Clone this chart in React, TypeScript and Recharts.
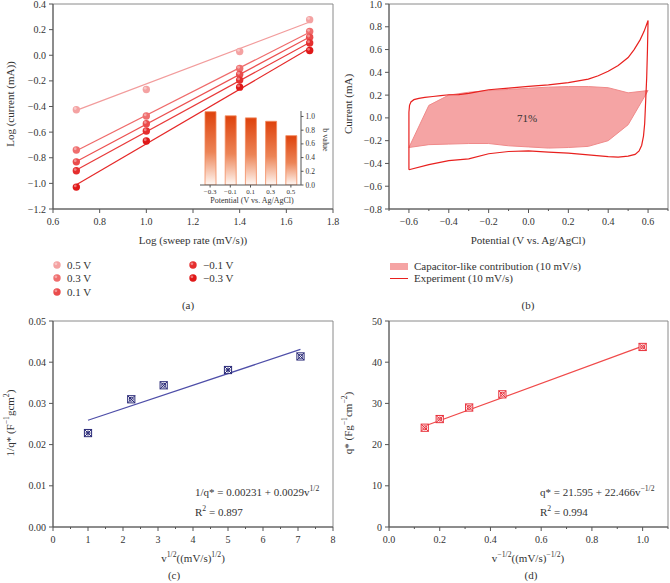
import {
  ComposedChart,
  BarChart,
  Bar,
  Line,
  Scatter,
  Area,
  XAxis,
  YAxis,
  ReferenceArea,
} from "recharts";

const FONT = "'Liberation Serif', 'DejaVu Serif', serif";
const AXIS = "#555";
const FRAME = "#8a8a8a";
const TXT = "#333";

// (a) log(i) vs log(v) at five potentials
const logRate = [0.7, 1.0, 1.4, 1.7];
const logI05 = [-0.425, -0.267, 0.029, 0.278];
const logI03 = [-0.739, -0.474, -0.103, 0.185];
const logI01 = [-0.832, -0.534, -0.15, 0.141];
const logIm01 = [-0.902, -0.591, -0.194, 0.096];
const logIm03 = [-1.029, -0.669, -0.249, 0.037];
const fitRate = [0.7, 1.7];
const fit05 = [-0.43, 0.26];
const fit03 = [-0.745, 0.179];
const fit01 = [-0.83, 0.142];
const fitm01 = [-0.896, 0.1];
const fitm03 = [-1.01, 0.054];

// inset: b value per potential
const bPotential = ["−0.3", "−0.1", "0.1", "0.3", "0.5"];
const bValue = [1.07, 1.01, 0.98, 0.93, 0.72];

// (b) CV at 10 mV/s, closed loop
const cvX = [
  -0.6, -0.6, -0.597, -0.59, -0.575, -0.55, -0.52, -0.48, -0.44, -0.4, -0.35, -0.3, -0.2, -0.1, 0,
  0.1, 0.2, 0.3, 0.35, 0.4, 0.45, 0.5, 0.53, 0.56, 0.58, 0.6, 0.597, 0.593, 0.588, 0.583, 0.577,
  0.568, 0.555, 0.535, 0.5, 0.45, 0.4, 0.3, 0.2, 0.1, 0, -0.1, -0.2, -0.3, -0.4, -0.5, -0.6,
];
const cvY = [
  -0.455, 0.05, 0.11, 0.14, 0.16, 0.172, 0.18, 0.188, 0.195, 0.203, 0.205, 0.215, 0.247, 0.262,
  0.276, 0.29, 0.31, 0.34, 0.37, 0.41, 0.46, 0.53, 0.6, 0.685, 0.76, 0.855, 0.6, 0.35, 0.15,
  -0.05, -0.16, -0.24, -0.29, -0.32, -0.335, -0.345, -0.34, -0.325, -0.31, -0.3, -0.29, -0.295,
  -0.315, -0.36, -0.375, -0.41, -0.455,
];
const capX = [-0.6, -0.5, -0.4, -0.3, -0.2, -0.1, 0, 0.1, 0.2, 0.3, 0.4, 0.5, 0.6];
const capHi = [-0.26, 0.11, 0.2, 0.225, 0.24, 0.25, 0.26, 0.27, 0.275, 0.275, 0.265, 0.22, 0.24];
const capLo = [-0.26, -0.235, -0.23, -0.225, -0.225, -0.245, -0.255, -0.265, -0.26, -0.25, -0.2, -0.06, 0.24];

// (c) 1/q* vs v^1/2
const sqrtRate = [1, 2.236, 3.162, 5, 7.071];
const invQ = [0.0228, 0.031, 0.0344, 0.0381, 0.0414];
const fitSqrtRate = [1, 7.07];
const fitInvQ = [0.0259, 0.0431];

// (d) q* vs v^-1/2
const invSqrtRate = [0.141, 0.2, 0.316, 0.447, 1.0];
const qStar = [24.1, 26.2, 29.0, 32.2, 43.7];
const fitInvSqrtRate = [0.141, 1.0];
const fitQStar = [24.5, 43.9];

const toPts = (xs: number[], ys: number[]) => xs.map((x, i) => ({ x, y: ys[i] }));

const seriesA = [
  { name: "0.5 V", color: "#f4a2a2", line: "#f29c9c", pts: logI05, fit: fit05 },
  { name: "0.3 V", color: "#ef6e6e", line: "#ef6a6a", pts: logI03, fit: fit03 },
  { name: "0.1 V", color: "#ea4c4c", line: "#ec5050", pts: logI01, fit: fit01 },
  { name: "−0.1 V", color: "#e52e2e", line: "#e83a3a", pts: logIm01, fit: fitm01 },
  { name: "−0.3 V", color: "#e01818", line: "#e52828", pts: logIm03, fit: fitm03 },
];

const fmt = (v: number, d: number) => v.toFixed(d).replace("-", "−");
const labeller = (step: number, d: number) => (v: number) =>
  Math.abs(v / step - Math.round(v / step)) < 1e-6 ? fmt(v, d) : null;

function axisTick(
  side: "bottom" | "left" | "right",
  label: (v: any) => string | null,
  fs = 10,
  big = 4,
  gap = 3
) {
  return (props: any) => {
    const { x, y, payload } = props;
    const txt = label(payload.value);
    const len = txt === null ? 2 : big;
    if (side === "bottom") {
      return (
        <g>
          <line x1={x} y1={y} x2={x} y2={y + len} stroke={AXIS} />
          {txt !== null && (
            <text x={x} y={y + len + gap + fs / 2} textAnchor="middle" dominantBaseline="central" fontSize={fs} fill={TXT} fontFamily={FONT}>
              {txt}
            </text>
          )}
        </g>
      );
    }
    const dir = side === "left" ? -1 : 1;
    return (
      <g>
        <line x1={x} y1={y} x2={x + dir * len} y2={y} stroke={AXIS} />
        {txt !== null && (
          <text x={x + dir * (len + gap)} y={y} textAnchor={side === "left" ? "end" : "start"} dominantBaseline="central" fontSize={fs} fill={TXT} fontFamily={FONT}>
            {txt}
          </text>
        )}
      </g>
    );
  };
}

function Ball({ cx, cy, color }: { cx: number; cy: number; color: string }) {
  return (
    <g>
      <circle cx={cx} cy={cy} r={3.7} fill={color} />
      <circle cx={cx - 1.1} cy={cy - 1.2} r={1.4} fill="#fff" opacity={0.4} />
    </g>
  );
}

function XBox({ cx, cy, color }: { cx: number; cy: number; color: string }) {
  const h = 3.6;
  return (
    <g stroke={color} strokeWidth={1}>
      <rect x={cx - h} y={cy - h} width={2 * h} height={2 * h} fill="#fff" />
      <line x1={cx - h} y1={cy - h} x2={cx + h} y2={cy + h} />
      <line x1={cx - h} y1={cy + h} x2={cx + h} y2={cy - h} />
      <circle cx={cx} cy={cy} r={2} fill="none" />
    </g>
  );
}

function Txt({ x, y, rot, size = 11, left, children }: any) {
  const tx = left ? "0" : "-50%";
  return (
    <div
      style={{
        position: "absolute",
        left: x,
        top: y,
        transform: `translate(${tx},-50%)${rot ? ` rotate(${rot}deg)` : ""}`,
        fontSize: size,
        whiteSpace: "nowrap",
        lineHeight: 1,
      }}
    >
      {children}
    </div>
  );
}

const sup = (s: string) => <sup style={{ fontSize: "0.7em", lineHeight: 0 }}>{s}</sup>;

function ChartA() {
  return (
    <ComposedChart width={340} height={240} margin={{ top: 4, right: 7, left: 13, bottom: 11 }}>
      <XAxis type="number" dataKey="x" domain={[0.6, 1.8]} ticks={[0.6, 0.8, 1.0, 1.2, 1.4, 1.6, 1.8]}
        interval={0} height={20} tickSize={0} tickMargin={0} tickLine={false} axisLine={{ stroke: AXIS }}
        tick={axisTick("bottom", labeller(0.2, 1))} allowDataOverflow />
      <YAxis type="number" dataKey="y" domain={[-1.2, 0.4]} ticks={[-1.2, -1.0, -0.8, -0.6, -0.4, -0.2, 0, 0.2, 0.4]}
        interval={0} width={40} tickSize={0} tickMargin={0} tickLine={false} axisLine={{ stroke: AXIS }}
        tick={axisTick("left", labeller(0.2, 1))} allowDataOverflow />
      <ReferenceArea x1={0.6} x2={1.8} y1={-1.2} y2={0.4} fill="none" stroke={FRAME} />
      {seriesA.map((s) => (
        <Line key={"f" + s.name} data={toPts(fitRate, s.fit)} dataKey="y" type="linear" stroke={s.line}
          strokeWidth={1.2} dot={false} isAnimationActive={false} />
      ))}
      {seriesA.map((s) => (
        <Scatter key={s.name} data={toPts(logRate, s.pts)} dataKey="y" isAnimationActive={false}
          shape={(p: any) => <Ball cx={p.cx} cy={p.cy} color={s.color} />} />
      ))}
    </ComposedChart>
  );
}

function InsetB() {
  const data = bPotential.map((p, i) => ({ pot: p, b: bValue[i] }));
  return (
    <BarChart width={150} height={110} data={data} margin={{ top: 6, right: 9, left: 10, bottom: 10 }}>
      <defs>
        <linearGradient id="bgrad" x1="0" y1="0" x2="0" y2="1">
          <stop offset="0%" stopColor="#de420c" />
          <stop offset="55%" stopColor="#ec8456" />
          <stop offset="100%" stopColor="#fff8f4" />
        </linearGradient>
      </defs>
      <XAxis dataKey="pot" height={20} interval={0} tickSize={0} tickMargin={0} tickLine={false}
        axisLine={{ stroke: AXIS }} tick={axisTick("bottom", (v) => String(v), 7, 2.5, 1)} />
      <YAxis orientation="right" domain={[0, 1.08]} ticks={[0, 0.2, 0.4, 0.6, 0.8, 1.0]} width={30}
        interval={0} tickSize={0} tickMargin={0} tickLine={false} axisLine={{ stroke: AXIS }}
        tick={axisTick("right", labeller(0.2, 1), 7.5, 2.5, 2)} allowDataOverflow />
      <Bar dataKey="b" barSize={11} fill="url(#bgrad)" stroke="#f38a5e" strokeWidth={0.8} isAnimationActive={false} />
    </BarChart>
  );
}

function ChartB() {
  const cap = capX.map((x, i) => ({ x, r: [capLo[i], capHi[i]] }));
  return (
    <ComposedChart width={335} height={240} margin={{ top: 4, right: 2, left: 14, bottom: 11 }}>
      <XAxis type="number" dataKey="x" domain={[-0.7, 0.7]}
        ticks={[-0.7, -0.6, -0.5, -0.4, -0.3, -0.2, -0.1, 0, 0.1, 0.2, 0.3, 0.4, 0.5, 0.6, 0.7]}
        interval={0} height={20} tickSize={0} tickMargin={0} tickLine={false} axisLine={{ stroke: AXIS }}
        tick={axisTick("bottom", labeller(0.2, 1))} allowDataOverflow />
      <YAxis type="number" domain={[-0.8, 1.0]} ticks={[-0.8, -0.6, -0.4, -0.2, 0, 0.2, 0.4, 0.6, 0.8, 1.0]}
        interval={0} width={40} tickSize={0} tickMargin={0} tickLine={false} axisLine={{ stroke: AXIS }}
        tick={axisTick("left", labeller(0.2, 1))} allowDataOverflow />
      <ReferenceArea x1={-0.7} x2={0.7} y1={-0.8} y2={1.0} fill="none" stroke={FRAME} />
      <Area data={cap} dataKey="r" type="linear" fill="#f5a4a4" fillOpacity={1} stroke="#f08a8a"
        strokeWidth={1} dot={false} activeDot={false} isAnimationActive={false} />
      <Line data={toPts(cvX, cvY)} dataKey="y" type="linear" stroke="#e8201e" strokeWidth={1.2}
        dot={false} isAnimationActive={false} />
    </ComposedChart>
  );
}

function ChartC() {
  return (
    <ComposedChart width={340} height={250} margin={{ top: 21, right: 7, left: 13, bottom: 3 }}>
      <XAxis type="number" dataKey="x" domain={[0, 8]}
        ticks={[0, 0.5, 1, 1.5, 2, 2.5, 3, 3.5, 4, 4.5, 5, 5.5, 6, 6.5, 7, 7.5, 8]}
        interval={0} height={20} tickSize={0} tickMargin={0} tickLine={false} axisLine={{ stroke: AXIS }}
        tick={axisTick("bottom", labeller(1, 0))} allowDataOverflow />
      <YAxis type="number" dataKey="y" domain={[0, 0.05]} ticks={[0, 0.01, 0.02, 0.03, 0.04, 0.05]}
        interval={0} width={40} tickSize={0} tickMargin={0} tickLine={false} axisLine={{ stroke: AXIS }}
        tick={axisTick("left", labeller(0.01, 2))} allowDataOverflow />
      <ReferenceArea x1={0} x2={8} y1={0} y2={0.05} fill="none" stroke={FRAME} />
      <Line data={toPts(fitSqrtRate, fitInvQ)} dataKey="y" type="linear" stroke="#4e4ea8" strokeWidth={1.2}
        dot={false} isAnimationActive={false} />
      <Scatter data={toPts(sqrtRate, invQ)} dataKey="y" isAnimationActive={false}
        shape={(p: any) => <XBox cx={p.cx} cy={p.cy} color="#2a2a78" />} />
    </ComposedChart>
  );
}

function ChartD() {
  return (
    <ComposedChart width={335} height={250} margin={{ top: 21, right: 2, left: 14, bottom: 3 }}>
      <XAxis type="number" dataKey="x" domain={[0, 1.1]}
        ticks={[0, 0.1, 0.2, 0.3, 0.4, 0.5, 0.6, 0.7, 0.8, 0.9, 1.0, 1.1]}
        interval={0} height={20} tickSize={0} tickMargin={0} tickLine={false} axisLine={{ stroke: AXIS }}
        tick={axisTick("bottom", labeller(0.2, 1))} allowDataOverflow />
      <YAxis type="number" dataKey="y" domain={[0, 50]} ticks={[0, 10, 20, 30, 40, 50]}
        interval={0} width={40} tickSize={0} tickMargin={0} tickLine={false} axisLine={{ stroke: AXIS }}
        tick={axisTick("left", labeller(10, 0))} allowDataOverflow />
      <ReferenceArea x1={0} x2={1.1} y1={0} y2={50} fill="none" stroke={FRAME} />
      <Line data={toPts(fitInvSqrtRate, fitQStar)} dataKey="y" type="linear" stroke="#f04a4a" strokeWidth={1.2}
        dot={false} isAnimationActive={false} />
      <Scatter data={toPts(invSqrtRate, qStar)} dataKey="y" isAnimationActive={false}
        shape={(p: any) => <XBox cx={p.cx} cy={p.cy} color="#e8303a" />} />
    </ComposedChart>
  );
}

const legendA = [
  { x: 57, y: 265, i: 0 },
  { x: 57, y: 278, i: 1 },
  { x: 57, y: 292, i: 2 },
  { x: 193, y: 265, i: 3 },
  { x: 193, y: 278, i: 4 },
];

export default function App() {
  return (
    <div style={{ position: "absolute", left: 0, top: 0, width: 670, height: 583, background: "#fff",
      fontFamily: FONT, color: TXT, overflow: "hidden" }}>
      <div style={{ position: "absolute", left: 0, top: 0 }}><ChartA /></div>
      <div style={{ position: "absolute", left: 190, top: 105 }}><InsetB /></div>
      <div style={{ position: "absolute", left: 335, top: 0 }}><ChartB /></div>
      <div style={{ position: "absolute", left: 0, top: 300 }}><ChartC /></div>
      <div style={{ position: "absolute", left: 335, top: 300 }}><ChartD /></div>

      {/* axis titles */}
      <Txt x={193} y={240}>Log (sweep rate (mV/s))</Txt>
      <Txt x={10} y={104} rot={-90}>Log (current (mA))</Txt>
      <Txt x={252} y={201} size={8}>Potential (V vs. Ag/AgCl)</Txt>
      <Txt x={325} y={140} size={8} rot={90}>b value</Txt>
      <Txt x={528} y={240}>Potential (V vs. Ag/AgCl)</Txt>
      <Txt x={348} y={104} rot={-90}>Current (mA)</Txt>
      <Txt x={527} y={118}>71%</Txt>
      <Txt x={193} y={558}>v{sup("1/2")}((mV/s){sup("1/2")})</Txt>
      <Txt x={10} y={423} rot={-90}>1/q* (F{sup("−1")}gcm{sup("2")})</Txt>
      <Txt x={528} y={558}>v{sup("−1/2")}((mV/s){sup("−1/2")})</Txt>
      <Txt x={348} y={423} rot={-90}>q* (Fg{sup("−1")}cm{sup("−2")})</Txt>

      {/* fit equations */}
      <Txt x={195} y={492} left>1/q* = 0.00231 + 0.0029v{sup("1/2")}</Txt>
      <Txt x={195} y={512} left>R{sup("2")} = 0.897</Txt>
      <Txt x={540} y={492} left>q* = 21.595 + 22.466v{sup("−1/2")}</Txt>
      <Txt x={540} y={512} left>R{sup("2")} = 0.994</Txt>

      {/* legends */}
      {legendA.map((l) => (
        <div key={l.i}>
          <svg style={{ position: "absolute", left: l.x - 5, top: l.y - 5 }} width={10} height={10}>
            <Ball cx={5} cy={5} color={seriesA[l.i].color} />
          </svg>
          <Txt x={l.x + 10} y={l.y} left>{seriesA[l.i].name}</Txt>
        </div>
      ))}
      <div style={{ position: "absolute", left: 390, top: 263, width: 18, height: 7, background: "#f5a4a4" }} />
      <Txt x={414} y={266} left>Capacitor-like contribution (10 mV/s)</Txt>
      <div style={{ position: "absolute", left: 390, top: 278, width: 18, height: 1.2, background: "#e8201e" }} />
      <Txt x={414} y={278} left>Experiment (10 mV/s)</Txt>

      {/* panel tags */}
      <Txt x={188} y={305}>(a)</Txt>
      <Txt x={528} y={305}>(b)</Txt>
      <Txt x={174} y={575}>(c)</Txt>
      <Txt x={531} y={575}>(d)</Txt>
    </div>
  );
}
